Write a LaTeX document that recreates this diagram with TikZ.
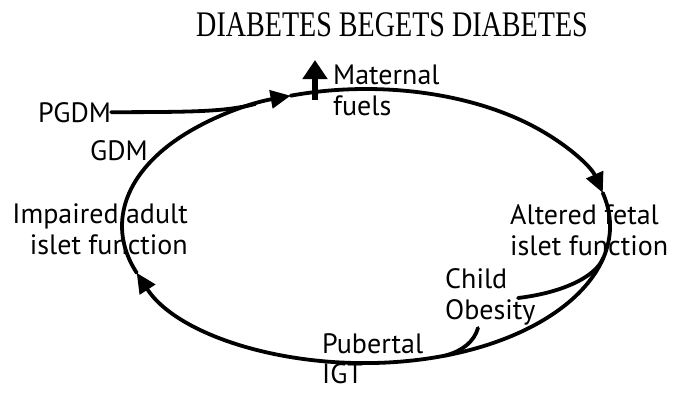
\documentclass[tikz,border=0pt]{standalone}
\usepackage{fontspec}
\usepackage{tikz}
\usetikzlibrary{arrows.meta, calc}
\newfontfamily\labelfont{PT Sans}
\newfontfamily\titlefont[FakeStretch=0.78]{Liberation Serif}

\begin{document}
\begin{tikzpicture}[x=1pt, y=-1pt, line join=round, line cap=round,
        cyc/.style={line width=3.8pt},
        lbl/.style={inner sep=0pt, font=\labelfont\fontsize{28}{31}\selectfont}]
        % ---------------------------------------------------
        % canvas and the cycle ellipse (center C, radii rx, ry)
        % ---------------------------------------------------
        \useasboundingbox (0,0) rectangle (673,392);
        \def\rx{244}
        \def\ry{137}
        \coordinate (C) at (366,226);

        % points on the ellipse: arrow tips and merge points
        \path (C) ++(160:244 and 137) coordinate (L);
        \path (C) ++(252:244 and 137) coordinate (T);
        \path (C) ++(346:244 and 137) coordinate (R);
        \path (C) ++(243:244 and 137) coordinate (J);
        \path (C) ++(13.5:244 and 137) coordinate (R2);
        \path (C) ++(71:244 and 137) coordinate (B2);

        % free ends of the side curves
        \coordinate (fuelbase) at (315,100);
        \coordinate (fueltip) at (315,60);
        \coordinate (obeA) at (518,298);
        \coordinate (obeB) at (478,328);

        % title
        \node[font=\titlefont\fontsize{36}{40}\selectfont, inner sep=0pt] (title) at (392,25) {DIABETES BEGETS DIABETES};

        % labels
        \node[lbl, anchor=north west, align=left] (fuels) at (333,65) {Maternal\\fuels};
        \node[lbl, anchor=base west] (pgdm) at (38,122) {PGDM};
        \node[lbl, anchor=base west] (gdm) at (90,160) {GDM};
        \node[lbl, anchor=north east, align=right] (adult) at (188,203) {Impaired adult\\islet function};
        \node[lbl, anchor=north west, align=left] (fetal) at (510,204) {Altered fetal\\islet function};
        \node[lbl, anchor=north west, align=left] (obesity) at (445,268) {Child\\Obesity};
        \node[lbl, anchor=north west, align=left, font=\labelfont\fontsize{28}{30}\selectfont] (igt) at (322,333) {Pubertal\\IGT};

        % cycle: three arcs, each ending in an arrow head
        \draw[cyc, -{Triangle[length=20pt,width=18pt]}] (L) arc[start angle=160, end angle=252, x radius=\rx, y radius=\ry];
        \draw[cyc, -{Triangle[length=20pt,width=18pt]}] (T) arc[start angle=252, end angle=346, x radius=\rx, y radius=\ry];
        \draw[cyc, -{Triangle[length=20pt,width=18pt]}] (R) arc[start angle=346, end angle=520, x radius=\rx, y radius=\ry];

        % PGDM joins the cycle
        \draw[cyc] (pgdm.east) .. controls (190,112) and (225,112) .. (J);

        % maternal fuels rise
        \draw[line width=6pt, line cap=butt, -{Triangle[length=19pt,width=24pt]}] (fuelbase) -- (fueltip);

        % child obesity links
        \draw[cyc] (obeA) .. controls (560,293) and (595,278) .. (R2);
        \draw[cyc] (obeB) .. controls (474,342) and (462,351) .. (B2);
    \end{tikzpicture}
\end{document}
